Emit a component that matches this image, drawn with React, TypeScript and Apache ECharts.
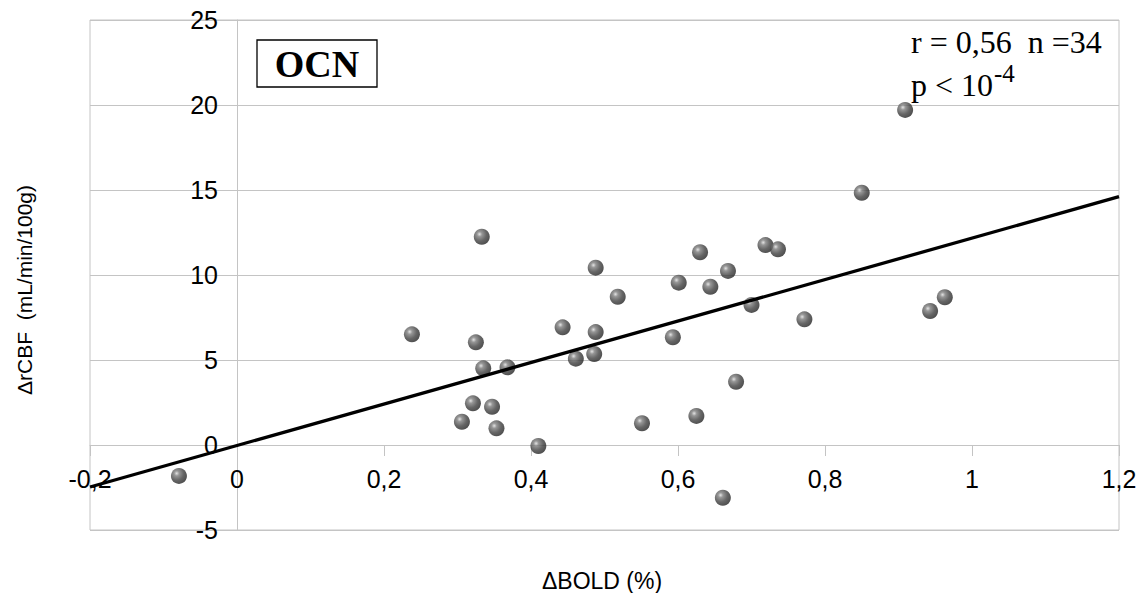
import React, { useEffect, useRef } from "react";
import * as echarts from "echarts";

// ΔBOLD (%) values
const boldValues: number[] = [
  -0.079, 0.238, 0.325, 0.333, 0.335, 0.368, 0.443, 0.461, 0.488, 0.488, 0.486,
  0.518, 0.593, 0.601, 0.63, 0.644, 0.668, 0.7, 0.719, 0.736, 0.772, 0.943,
  0.963, 0.679, 0.321, 0.347, 0.306, 0.353, 0.41, 0.551, 0.625, 0.661, 0.909,
  0.85,
];
// ΔrCBF (mL/min/100g) values
const cbfValues: number[] = [
  -1.82, 6.51, 6.04, 12.25, 4.51, 4.57, 6.92, 5.08, 10.43, 6.64, 5.35, 8.72,
  6.34, 9.55, 11.34, 9.31, 10.24, 8.24, 11.76, 11.51, 7.39, 7.88, 8.69, 3.72,
  2.45, 2.25, 1.37, 0.98, -0.06, 1.28, 1.71, -3.1, 19.71, 14.84,
];

// regression line
const trendSlope = 12.2;
const trendIntercept = -0.03;

const xRange: [number, number] = [-0.2, 1.2];
const yRange: [number, number] = [-5, 25];

const groupLabel = "OCN";
const statsLine1 = "r = 0,56  n =34";
const statsLine2 = "p < 10";
const statsExponent = "-4";
const xTitle = "ΔBOLD (%)";
const yTitle = "ΔrCBF  (mL/min/100g)";

const fmt = (v: number) => String(+v.toFixed(1)).replace(".", ",");

export default function App() {
  const ref = useRef<HTMLDivElement>(null);
  useEffect(() => {
    if (!ref.current) return;
    const chart = echarts.init(ref.current, null, { renderer: "svg" });
    const points = boldValues.map((x, i) => [x, cbfValues[i]]);
    const trend = xRange.map((x) => [x, trendSlope * x + trendIntercept]);
    const sphere = new echarts.graphic.RadialGradient(0.36, 0.34, 0.72, [
      { offset: 0, color: "#dcdcdc" },
      { offset: 0.22, color: "#7c7c7c" },
      { offset: 0.6, color: "#404040" },
      { offset: 1, color: "#202020" },
    ]);
    const grey = "#c4c4c4";
    const gridLeft = 90;
    const gridTop = 20;
    const gridRight = 27;
    const gridBottom = 63;
    const plotW = 1146 - gridLeft - gridRight;
    const plotH = 593 - gridTop - gridBottom;
    // shift the axes so they cross at the origin (labels follow)
    const xAxisOffset = -((0 - yRange[0]) / (yRange[1] - yRange[0])) * plotH;
    const yAxisOffset = -((0 - xRange[0]) / (xRange[1] - xRange[0])) * plotW;
    chart.setOption({
      animation: false,
      backgroundColor: "#ffffff",
      textStyle: { fontFamily: "Liberation Sans, Arial, sans-serif" },
      grid: {
        left: gridLeft,
        top: gridTop,
        right: gridRight,
        bottom: gridBottom,
        show: true,
        borderColor: grey,
        borderWidth: 1,
        backgroundColor: "transparent",
      },
      xAxis: {
        type: "value",
        min: xRange[0],
        max: xRange[1],
        interval: 0.2,
        position: "bottom",
        offset: xAxisOffset,
        axisLine: { show: true, onZero: false, lineStyle: { color: grey, width: 1 } },
        axisTick: { show: true, length: 11, lineStyle: { color: grey } },
        splitLine: { show: false },
        axisLabel: {
          color: "#000",
          fontSize: 25,
          margin: 21,
          formatter: fmt,
          showMinLabel: true,
          showMaxLabel: true,
          hideOverlap: false,
          fontFamily: "Liberation Sans, Arial, sans-serif",
        },
      },
      yAxis: {
        type: "value",
        min: yRange[0],
        max: yRange[1],
        interval: 5,
        position: "left",
        offset: yAxisOffset,
        axisLine: { show: true, onZero: false, lineStyle: { color: grey, width: 1 } },
        axisTick: { show: true, length: 11, lineStyle: { color: grey } },
        splitLine: { show: true, lineStyle: { color: grey, width: 1 } },
        axisLabel: {
          color: "#000",
          fontSize: 25,
          margin: 19,
          formatter: (v: number) => String(v),
          showMinLabel: true,
          showMaxLabel: true,
          hideOverlap: false,
          fontFamily: "Liberation Sans, Arial, sans-serif",
        },
      },
      series: [
        {
          type: "scatter",
          data: points,
          symbol: "circle",
          symbolSize: 16,
          itemStyle: { color: sphere },
          z: 3,
        },
        {
          type: "line",
          data: trend,
          showSymbol: false,
          symbol: "none",
          lineStyle: { color: "#000", width: 3.3 },
          z: 4,
        },
      ],
      graphic: [
        {
          type: "rect",
          shape: { x: 257, y: 40, width: 120, height: 47 },
          style: { fill: "#fff", stroke: "#000", lineWidth: 1.3 },
          z: 10,
        },
        {
          type: "text",
          x: 317,
          y: 64,
          style: {
            text: groupLabel,
            font: 'bold 38px "Liberation Serif", "Times New Roman", serif',
            fill: "#000",
            align: "center",
            verticalAlign: "middle",
          },
          z: 11,
        },
        {
          type: "text",
          x: 911,
          y: 42,
          style: {
            text: statsLine1,
            font: '32px "Liberation Serif", "Times New Roman", serif',
            fill: "#000",
            align: "left",
            verticalAlign: "middle",
          },
          z: 11,
        },
        {
          type: "text",
          x: 911,
          y: 85,
          style: {
            text: statsLine2,
            font: '32px "Liberation Serif", "Times New Roman", serif',
            fill: "#000",
            align: "left",
            verticalAlign: "middle",
          },
          z: 11,
        },
        {
          type: "text",
          x: 994,
          y: 73,
          style: {
            text: statsExponent,
            font: '25px "Liberation Serif", "Times New Roman", serif',
            fill: "#000",
            align: "left",
            verticalAlign: "middle",
          },
          z: 11,
        },
        {
          type: "text",
          x: 602,
          y: 581,
          style: {
            text: xTitle,
            font: '23px "Liberation Sans", Arial, sans-serif',
            fill: "#000",
            align: "center",
            verticalAlign: "middle",
          },
        },
        {
          type: "text",
          x: 24,
          y: 290,
          rotation: Math.PI / 2,
          style: {
            text: yTitle,
            font: '21px "Liberation Sans", Arial, sans-serif',
            fill: "#000",
            align: "center",
            verticalAlign: "middle",
          },
        },
      ],
    });
    return () => chart.dispose();
  }, []);
  return (
    <div
      ref={ref}
      style={{ position: "fixed", left: 0, top: 0, width: 1146, height: 593 }}
    />
  );
}
